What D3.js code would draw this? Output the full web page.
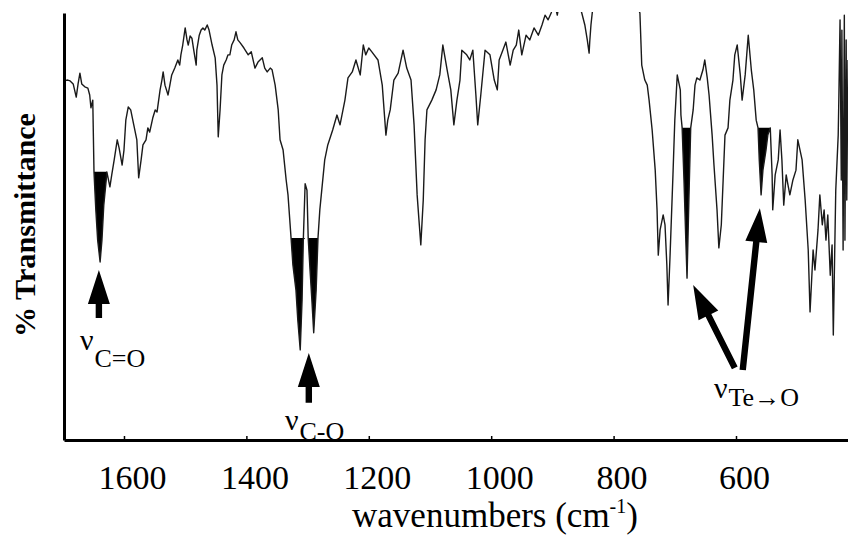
<!DOCTYPE html>
<html>
<head>
<meta charset="utf-8">
<script src="https://cdn.jsdelivr.net/npm/d3@7"></script>
<style>
  body { margin: 0; background: #fff; }
  svg text { font-family: "Liberation Serif", "Tinos", "Times New Roman", "DejaVu Serif", serif; fill: #000; }
</style>
</head>
<body>
<div id="chart-area"></div>
<script>

// spectrum (wavenumber in cm-1, % transmittance)
let wavenumbers = [1698,1692,1688,1683,1678,1675,1672,1669,1664,1659,1656,1654,1651,1649,1646,1643,1639,1636,1633,1629,1628,1626,1623,1620,1616,1611,1608,1603,1600,1597,1593,1589,1584,1579,1576,1572,1569,1564,1561,1558,1553,1549,1546,1541,1538,1536,1533,1528,1525,1522,1517,1512,1509,1507,1504,1500,1497,1495,1492,1489,1486,1482,1481,1477,1474,1471,1468,1464,1461,1456,1451,1448,1446,1443,1440,1437,1433,1430,1427,1424,1420,1417,1414,1410,1404,1397,1392,1386,1381,1374,1370,1366,1361,1358,1353,1348,1345,1340,1335,1332,1327,1324,1319,1316,1312,1309,1307,1304,1301,1299,1296,1293,1290,1286,1283,1280,1272,1267,1259,1252,1247,1239,1234,1227,1221,1214,1209,1205,1200,1195,1185,1178,1172,1169,1165,1159,1152,1144,1138,1131,1126,1121,1118,1115,1111,1108,1105,1097,1090,1084,1079,1072,1066,1061,1056,1051,1048,1040,1035,1030,1025,1022,1017,1010,1002,995,990,987,981,976,969,964,959,955,950,943,937,930,923,917,912,907,902,897,892,888,858,852,847,843,840,839,837,834,822,765,757,754,749,745,742,737,732,729,727,724,719,716,713,711,708,703,700,696,691,690,688,685,682,680,677,674,670,667,664,659,654,651,647,644,639,636,631,628,624,621,618,613,610,605,602,598,593,590,585,580,575,571,567,564,562,559,556,551,548,544,541,540,536,531,528,525,522,518,515,512,507,502,499,492,487,482,479,474,471,466,463,459,456,453,450,446,443,441,437,433,432,430,428,427,425,423,422,420,419,417];
let transmittance = [84.1,84.3,84.1,83.4,80.3,83.4,85.9,83.4,82.7,82.4,80.8,77.8,79.6,62.8,53.9,46.8,41.7,46.8,55.0,60.9,62.8,61.4,59.3,62.1,65.6,70.3,68.4,64.4,67.9,74.9,78.0,77.3,73.8,70.3,61.4,65.6,69.1,70.3,73.1,72.1,75.4,77.3,76.8,82.0,84.3,86.2,83.1,80.8,83.1,85.5,87.1,89.0,87.8,90.2,92.5,96.5,93.7,92.5,94.6,94.1,91.3,87.8,91.3,94.8,96.0,96.5,96.0,97.2,96.0,92.5,89.5,83.1,71.0,77.3,85.5,87.8,89.0,90.2,90.2,92.5,93.7,95.6,93.7,93.0,91.8,90.2,90.9,87.1,88.5,89.5,87.1,86.2,87.1,86.7,83.1,77.3,70.3,67.9,60.9,57.4,47.3,41.0,35.1,28.1,21.1,32.8,46.8,60.0,58.5,47.3,39.8,32.8,25.1,35.1,47.3,53.9,65.6,69.1,72.6,76.1,73.8,79.6,84.8,86.2,89.0,85.5,92.5,90.2,91.8,90.9,89.0,83.1,71.4,74.9,77.3,84.3,85.9,91.3,87.1,84.3,73.8,57.4,51.5,45.7,56.2,70.3,77.3,79.6,82.0,85.5,92.5,86.7,82.0,73.8,79.6,84.3,91.3,90.2,89.0,91.3,80.8,73.8,80.8,91.3,90.2,84.3,82.0,89.0,91.3,93.2,87.8,91.3,92.5,96.0,90.2,94.8,93.7,96.5,94.8,97.2,99.5,98.4,100.0,102.6,99.5,103,103,100.0,97.2,93.7,90.6,93.2,97.2,101.2,103,103,100.0,87.8,84.3,83.1,79.6,72.6,63.2,53.9,43.3,49.2,52.7,50.4,41.0,31.6,42.2,62.1,74.9,85.5,82.0,76.1,73.1,60.9,46.8,37.9,56.2,73.1,77.3,83.1,84.8,84.3,86.7,89.0,84.8,80.8,71.4,64.4,53.9,45.0,50.4,60.9,71.4,73.1,79.6,84.3,90.2,92.5,85.5,79.6,85.5,94.8,86.7,82.0,74.9,73.1,65.6,57.4,63.2,67.9,71.4,73.1,62.1,53.9,62.1,65.6,72.6,65.6,55.0,62.1,59.7,57.4,60.9,63.2,70.3,65.6,56.2,44.5,30.0,44.5,39.8,49.2,57.4,50.4,53.9,46.8,52.7,38.6,45.7,24.6,58.5,71.4,79.6,98.4,60.9,96.0,44.5,99.5,46.8,93.7,56.2,89.0];

// filled (blackened) bands: from / to wavenumber and the level they are cut at
let bandFrom  = [1649, 1327, 688, 564];
let bandTo    = [1628, 1283, 674, 544];
let bandLevel = [62.8, 47.3, 73.1, 73.1];

// x axis ticks
let tickValues = [1600, 1400, 1200, 1000, 800, 600];

// arrows: tail and tip, in (wavenumber, %T)
let arrowTailX = [1641, 1298, 602, 589];
let arrowTailY = [28.6, 8.7, 16.9, 16.4];
let arrowTipX  = [1641, 1298, 670, 561];
let arrowTipY  = [39.8, 20.4, 36.3, 54.3];

// band labels
let labelSub = ["C=O", "C-O", "Te\u2192O"];
let labelX   = [1672, 1337, 636];
let labelY   = [21.1, 2.3, 9.8];
let labelDy  = [17, 10, 8];

let serif = "'Liberation Serif', 'Tinos', 'Times New Roman', 'DejaVu Serif', serif";

// Variable
let W = 848, H = 536;
let m = {top: 13, right: 0, bottom: 96, left: 64};

let data = wavenumbers.map(function(d, i){ return {wn: d, t: transmittance[i]}; });

let svg = d3.select("#chart-area")
    .append("svg")
    .attr("width", W)
    .attr("height", H)
    .attr("font-family", serif);

let x = d3.scaleLinear()
    .domain([1698, 417])
    .range([m.left, W - m.right]);

let y = d3.scaleLinear()
    .domain([0, 100])
    .range([H - m.bottom, m.top]);

svg.append("clipPath")
    .attr("id", "plot-clip")
  .append("rect")
    .attr("x", m.left)
    .attr("y", m.top - 1)
    .attr("width", W - m.left)
    .attr("height", H - m.bottom - m.top + 1);

let plot = svg.append("g").attr("clip-path", "url(#plot-clip)");

// black fills under the marked bands
bandFrom.forEach(function(from, i){
  let level = bandLevel[i];
  let pts = data.filter(function(d){ return d.wn <= from && d.wn >= bandTo[i]; });
  let area = d3.area()
      .x(function(d){ return x(d.wn); })
      .y0(y(level))
      .y1(function(d){ return y(Math.min(d.t, level)); });
  plot.append("path")
      .datum(pts)
      .attr("d", area)
      .attr("fill", "#000");
});

// the spectrum
let line = d3.line()
    .x(function(d){ return x(d.wn); })
    .y(function(d){ return y(d.t); });

plot.append("path")
    .datum(data)
    .attr("d", line)
    .attr("fill", "none")
    .attr("stroke", "#1a1a1a")
    .attr("stroke-width", 1.4)
    .attr("stroke-linejoin", "round");

// Axis
let xAxisCall = d3.axisBottom(x)
    .tickValues(tickValues)
    .tickSizeInner(-4)
    .tickSizeOuter(0)
    .tickPadding(25)
    .tickFormat(d3.format("d"));

let xg = svg.append("g")
    .attr("class", "x axis")
    .attr("transform", "translate(0," + (H - m.bottom) + ")")
    .call(xAxisCall)
    .attr("font-family", serif);
xg.select(".domain").attr("stroke", "#000").attr("stroke-width", 3);
xg.selectAll(".tick line").attr("stroke", "#000").attr("stroke-width", 1.5);
xg.selectAll(".tick text")
    .attr("font-size", "34px")
    .attr("dx", 8)
    .attr("fill", "#000");

let yAxisCall = d3.axisLeft(y).tickValues([]).tickSizeOuter(0);
let yg = svg.append("g")
    .attr("class", "y axis")
    .attr("transform", "translate(" + m.left + ",0)")
    .call(yAxisCall);
yg.select(".domain").attr("stroke", "#000").attr("stroke-width", 3);

// arrows
function arrowPoints(x1, y1, x2, y2){
  let dx = x2 - x1, dy = y2 - y1;
  let len = Math.sqrt(dx * dx + dy * dy);
  let ux = dx / len, uy = dy / len;
  let nx = -uy, ny = ux;
  let hl = 34, hw = 11, sw = 3.2;
  let bx = x2 - ux * hl, by = y2 - uy * hl;
  return [
    [x1 + nx * sw, y1 + ny * sw],
    [bx + nx * sw, by + ny * sw],
    [bx + nx * hw, by + ny * hw],
    [x2, y2],
    [bx - nx * hw, by - ny * hw],
    [bx - nx * sw, by - ny * sw],
    [x1 - nx * sw, y1 - ny * sw]
  ];
}

svg.selectAll(".arrow")
    .data(arrowTailX)
    .enter()
    .append("polygon")
      .attr("class", "arrow")
      .attr("points", function(d, i){
        return arrowPoints(x(d), y(arrowTailY[i]), x(arrowTipX[i]), y(arrowTipY[i]))
          .map(function(p){ return p.join(","); }).join(" ");
      })
      .attr("fill", "#000");

// band labels
let labels = svg.selectAll(".band-label")
    .data(labelSub)
    .enter()
    .append("text")
      .attr("class", "band-label")
      .attr("x", function(d, i){ return x(labelX[i]); })
      .attr("y", function(d, i){ return y(labelY[i]); });

labels.append("tspan")
    .attr("font-size", "30px")
    .text("\u03BD");
labels.append("tspan")
    .attr("font-size", "26px")
    .attr("dx", 1)
    .attr("dy", function(d, i){ return labelDy[i]; })
    .text(function(d){ return d; });

// Labels
// x label
let xl = svg.append("text")
    .attr("class", "x axis-label")
    .attr("x", 495)
    .attr("y", 527)
    .attr("font-size", "35px")
    .attr("text-anchor", "middle");
xl.append("tspan").text("wavenumbers (cm");
xl.append("tspan").attr("font-size", "20px").attr("dy", -14).text("-1");
xl.append("tspan").attr("dy", 14).text(")");

// y label
svg.append("text")
    .attr("class", "y axis-label")
    .attr("x", -225)
    .attr("y", 35)
    .attr("font-size", "30px")
    .attr("font-weight", "bold")
    .attr("text-anchor", "middle")
    .attr("textLength", 224)
    .attr("lengthAdjust", "spacingAndGlyphs")
    .attr("transform", "rotate(-90)")
    .text("% Transmittance");

</script>
</body>
</html>
